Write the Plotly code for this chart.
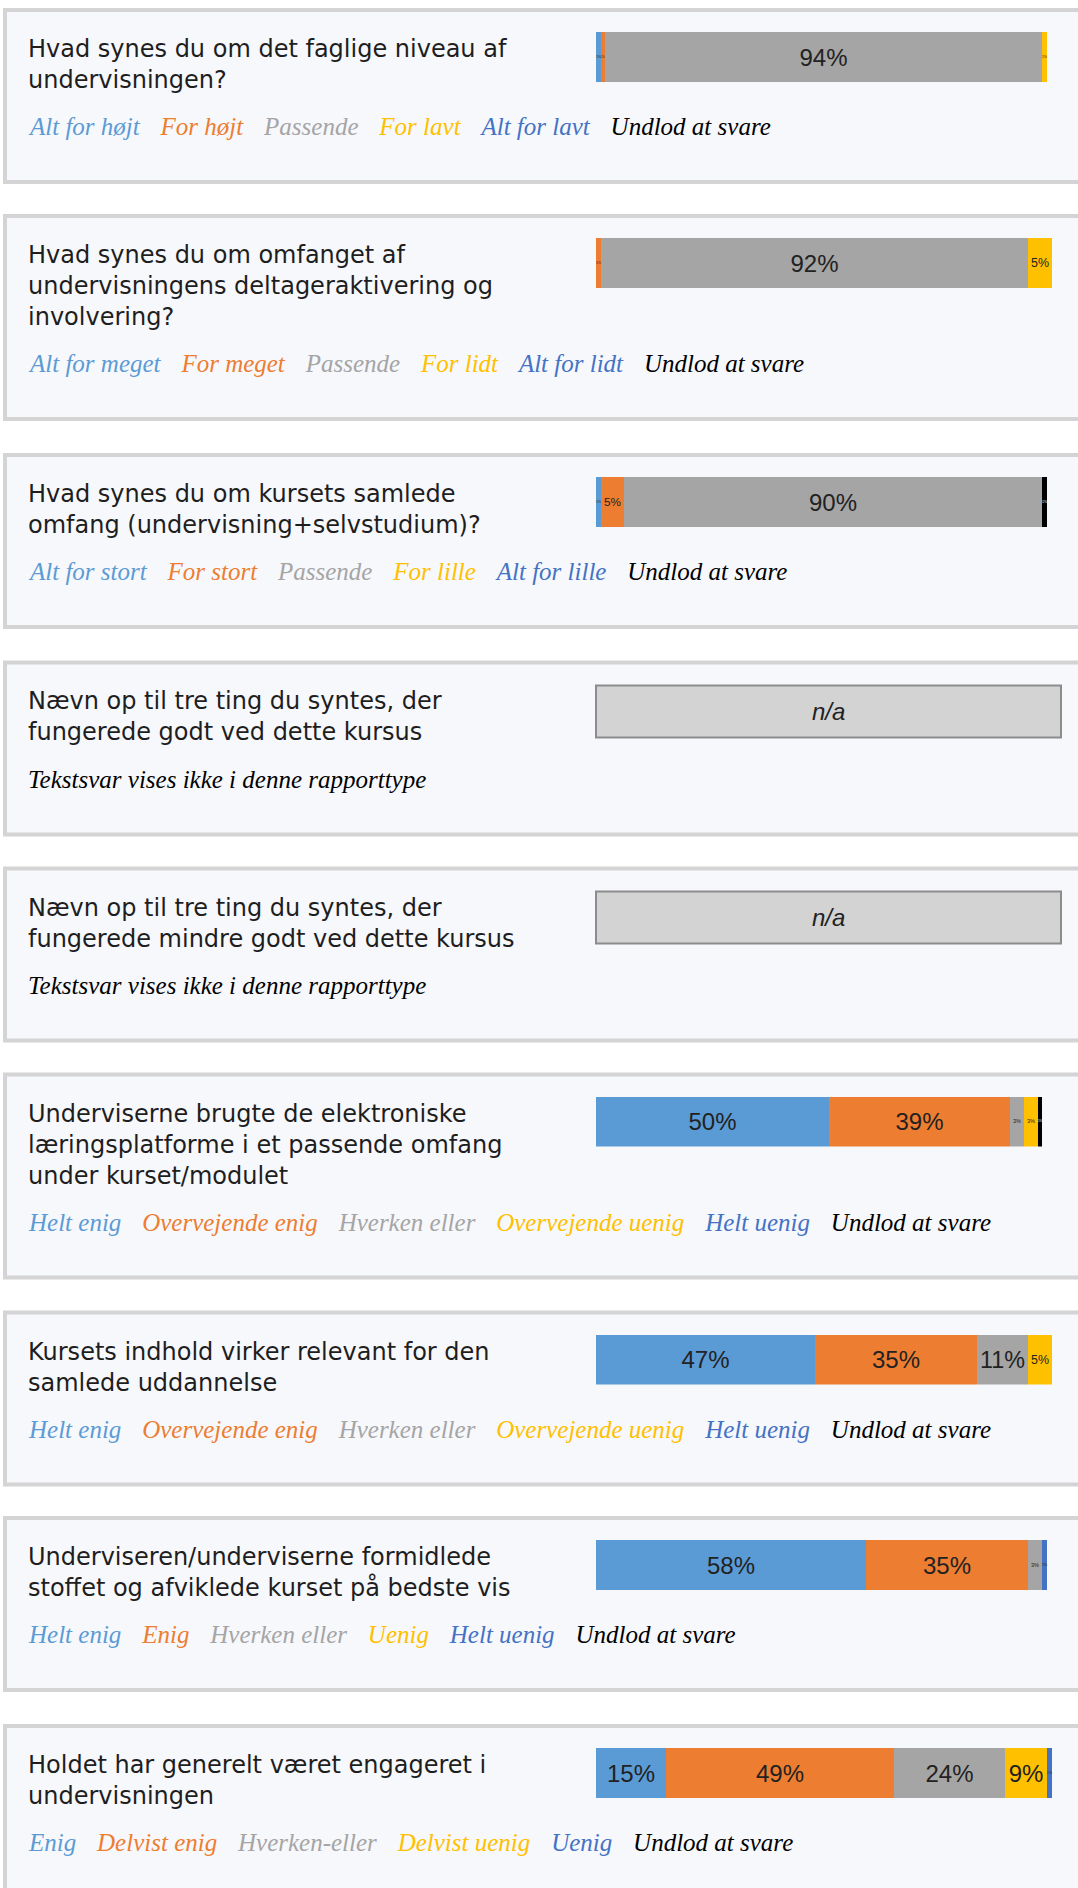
import plotly.graph_objects as go

W, H = 1078, 1888

# Answer-category colours (shared by bar segments and the coloured legend words)
seg_colors = ["#5B9BD5", "#ED7D31", "#A5A5A5", "#FFC000", "#4472C4", "#000000"]
CARD_BG = "#F7F8FC"

# Questions
questions = [
    "Hvad synes du om det faglige niveau af<br>undervisningen?",
    "Hvad synes du om omfanget af<br>undervisningens deltageraktivering og<br>involvering?",
    "Hvad synes du om kursets samlede<br>omfang (undervisning+selvstudium)?",
    "Nævn op til tre ting du syntes, der<br>fungerede godt ved dette kursus",
    "Nævn op til tre ting du syntes, der<br>fungerede mindre godt ved dette kursus",
    "Underviserne brugte de elektroniske<br>læringsplatforme i et passende omfang<br>under kurset/modulet",
    "Kursets indhold virker relevant for den<br>samlede uddannelse",
    "Underviseren/underviserne formidlede<br>stoffet og afviklede kurset på bedste vis",
    "Holdet har generelt været engageret i<br>undervisningen",
]

# Answer categories per question
cats_niveau = ["Alt for højt", "For højt", "Passende", "For lavt", "Alt for lavt", "Undlod at svare"]
cats_aktivering = ["Alt for meget", "For meget", "Passende", "For lidt", "Alt for lidt", "Undlod at svare"]
cats_omfang = ["Alt for stort", "For stort", "Passende", "For lille", "Alt for lille", "Undlod at svare"]
cats_enig = ["Helt enig", "Overvejende enig", "Hverken eller", "Overvejende uenig", "Helt uenig", "Undlod at svare"]
cats_enig_kort = ["Helt enig", "Enig", "Hverken eller", "Uenig", "Helt uenig", "Undlod at svare"]
cats_delvist = ["Enig", "Delvist enig", "Hverken-eller", "Delvist uenig", "Uenig", "Undlod at svare"]
text_note = "Tekstsvar vises ikke i denne rapporttype"

# Response shares (%) per question, in category order
pct_niveau = [1, 1, 94, 1, 0, 0]
pct_aktivering = [0, 1, 92, 5, 0, 0]
pct_omfang = [1, 5, 90, 0, 0, 1]
pct_platforme = [50, 39, 3, 3, 0, 1]
pct_relevans = [47, 35, 11, 5, 0, 0]
pct_formidling = [58, 35, 3, 0, 1, 0]
pct_engagement = [15, 49, 24, 9, 1, 0]

panel_cats = [cats_niveau, cats_aktivering, cats_omfang, None, None,
              cats_enig, cats_enig, cats_enig_kort, cats_delvist]
panel_vals = [pct_niveau, pct_aktivering, pct_omfang, None, None,
              pct_platforme, pct_relevans, pct_formidling, pct_engagement]

# Panel geometry in pixels
panel_tops = [8, 214, 453, 660.5, 866.5, 1072.5, 1310.5, 1516, 1724]
BAR_X0, BAR_X1 = 596, 1061
SANS = "Liberation Sans, Arial, sans-serif"
QFONT = "DejaVu Sans, Verdana, sans-serif"
SERIF = "Liberation Serif, Times New Roman, serif"


def px(x):
    return x / W


def py(y):
    return 1 - y / H


fig = go.Figure()
shapes, annotations = [], []
layout_axes = {}
axis_no = 0

for i, q in enumerate(questions):
    top = panel_tops[i]
    n_lines = q.count("<br>") + 1
    height = 176 + 31 * (n_lines - 2)

    # panel card
    shapes.append(dict(type="rect", xref="paper", yref="paper", layer="below",
                       x0=px(5), x1=px(1110), y0=py(top + 2), y1=py(top + height - 2),
                       line=dict(color="#D4D4D4", width=4), fillcolor=CARD_BG))

    # question text
    annotations.append(dict(xref="paper", yref="paper", x=px(26), y=py(top + 25),
                            xanchor="left", yanchor="top", align="left", showarrow=False,
                            text=q, font=dict(family=QFONT, size=24, color="#1E1E1E")))

    legend_y = top + 103 + 31 * (n_lines - 2)
    cats = panel_cats[i]
    vals = panel_vals[i]

    if vals is None:
        # free-text question: placeholder box instead of a bar
        shapes.append(dict(type="rect", xref="paper", yref="paper",
                           x0=px(BAR_X0), x1=px(BAR_X1), y0=py(top + 25), y1=py(top + 77),
                           line=dict(color="#8C8C8C", width=2), fillcolor="#D3D3D3"))
        annotations.append(dict(xref="paper", yref="paper", x=px((BAR_X0 + BAR_X1) / 2),
                                y=py(top + 51), xanchor="center", yanchor="middle",
                                showarrow=False, text="<i>n/a</i>",
                                font=dict(family=SANS, size=24, color="#222222")))
        annotations.append(dict(xref="paper", yref="paper", x=px(26), y=py(top + 103),
                                xanchor="left", yanchor="top", showarrow=False,
                                text="<i>" + text_note + "</i>",
                                font=dict(family=SERIF, size=25, color="#000000")))
        continue

    axis_no += 1
    xa = "x" if axis_no == 1 else f"x{axis_no}"
    ya = "y" if axis_no == 1 else f"y{axis_no}"
    layout_axes["xaxis" if axis_no == 1 else f"xaxis{axis_no}"] = dict(
        domain=[px(BAR_X0), px(BAR_X1)], range=[0, 100], anchor=ya,
        visible=False, fixedrange=True)
    layout_axes["yaxis" if axis_no == 1 else f"yaxis{axis_no}"] = dict(
        domain=[py(top + 74), py(top + 24)], range=[-0.5, 0.5], anchor=xa,
        visible=False, fixedrange=True)

    for j, (cat, v) in enumerate(zip(cats, vals)):
        fig.add_trace(go.Bar(
            x=[v], y=[0], orientation="h", name=cat,
            marker=dict(color=seg_colors[j], line=dict(width=0)),
            text=[f"{v}%" if v > 0 else ""], textposition="inside",
            insidetextanchor="middle", textangle=0, constraintext="inside",
            insidetextfont=dict(family=SANS, size=24,
                                color="#FFFFFF" if j == 5 else "#222222"),
            xaxis=xa, yaxis=ya, hoverinfo="skip", showlegend=False))

    # coloured category key
    sep = "\u00a0\u00a0\u00a0\u200a"
    key = sep.join(f'<span style="color:{seg_colors[j]}">{c}</span>' for j, c in enumerate(cats))
    annotations.append(dict(xref="paper", yref="paper", x=px(26), y=py(legend_y),
                            xanchor="left", yanchor="top", showarrow=False,
                            text="<i>" + key + "</i>",
                            font=dict(family=SERIF, size=25)))

fig.update_layout(
    width=W, height=H, margin=dict(l=0, r=0, t=0, b=0),
    paper_bgcolor="#FFFFFF", plot_bgcolor="rgba(0,0,0,0)",
    barmode="stack", bargap=0, showlegend=False,
    shapes=shapes, annotations=annotations, **layout_axes)

fig.write_html("out.html")
